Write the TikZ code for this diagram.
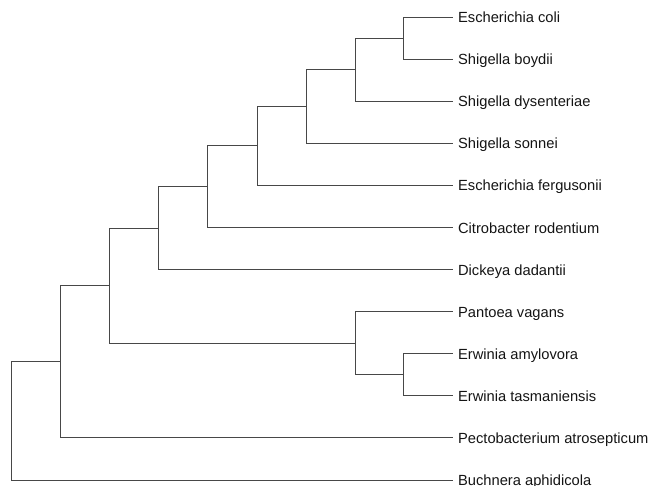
\documentclass[tikz,border=0pt]{standalone}
\usepackage{fontspec}
\setmainfont{Liberation Sans}
\begin{document}
\begin{tikzpicture}[x=1pt,y=-1pt,
  branch/.style={draw=black!72, line width=0.9pt},
  leaflabel/.style={anchor=base west, inner sep=0pt, xshift=5.2pt, yshift=-5.6pt,
    font=\fontsize{14.7}{17}\selectfont, text=black!92}]
\useasboundingbox (0,0) rectangle (651,486);
% leaf tips
\coordinate (t1) at (452.7,17);
\coordinate (t2) at (452.7,59.1);
\coordinate (t3) at (452.7,101.2);
\coordinate (t4) at (452.7,143.3);
\coordinate (t5) at (452.7,185.4);
\coordinate (t6) at (452.7,227.5);
\coordinate (t7) at (452.7,269.5);
\coordinate (t8) at (452.7,311.6);
\coordinate (t9) at (452.7,353.7);
\coordinate (t10) at (452.7,395.8);
\coordinate (t11) at (452.7,437.9);
\coordinate (t12) at (452.7,480);
% internal nodes
\coordinate (A) at (403.7,38.05);
\coordinate (B) at (355,69.6);
\coordinate (C) at (306,106.5);
\coordinate (D) at (257.3,145.9);
\coordinate (E) at (207.7,186.7);
\coordinate (F) at (158.7,228.1);
\coordinate (G) at (403.7,374.75);
\coordinate (H) at (355,343.2);
\coordinate (I) at (109.3,285.65);
\coordinate (J) at (60.3,361.8);
\coordinate (K) at (11.3,420.9);
% branches
\draw[branch] (A) |- (t1);
\draw[branch] (A) |- (t2);
\draw[branch] (B) |- (A);
\draw[branch] (B) |- (t3);
\draw[branch] (C) |- (B);
\draw[branch] (C) |- (t4);
\draw[branch] (D) |- (C);
\draw[branch] (D) |- (t5);
\draw[branch] (E) |- (D);
\draw[branch] (E) |- (t6);
\draw[branch] (F) |- (E);
\draw[branch] (F) |- (t7);
\draw[branch] (G) |- (t9);
\draw[branch] (G) |- (t10);
\draw[branch] (H) |- (t8);
\draw[branch] (H) |- (G);
\draw[branch] (I) |- (F);
\draw[branch] (I) |- (H);
\draw[branch] (J) |- (I);
\draw[branch] (J) |- (t11);
\draw[branch] (K) |- (J);
\draw[branch] (K) |- (t12);
% labels
\node[leaflabel] (n1) at (t1) {Escherichia coli};
\node[leaflabel] (n2) at (t2) {Shigella boydii};
\node[leaflabel] (n3) at (t3) {Shigella dysenteriae};
\node[leaflabel] (n4) at (t4) {Shigella sonnei};
\node[leaflabel] (n5) at (t5) {Escherichia fergusonii};
\node[leaflabel] (n6) at (t6) {Citrobacter rodentium};
\node[leaflabel] (n7) at (t7) {Dickeya dadantii};
\node[leaflabel] (n8) at (t8) {Pantoea vagans};
\node[leaflabel] (n9) at (t9) {Erwinia amylovora};
\node[leaflabel] (n10) at (t10) {Erwinia tasmaniensis};
\node[leaflabel] (n11) at (t11) {Pectobacterium atrosepticum};
\node[leaflabel] (n12) at (t12) {Buchnera aphidicola};
\end{tikzpicture}
\end{document}
